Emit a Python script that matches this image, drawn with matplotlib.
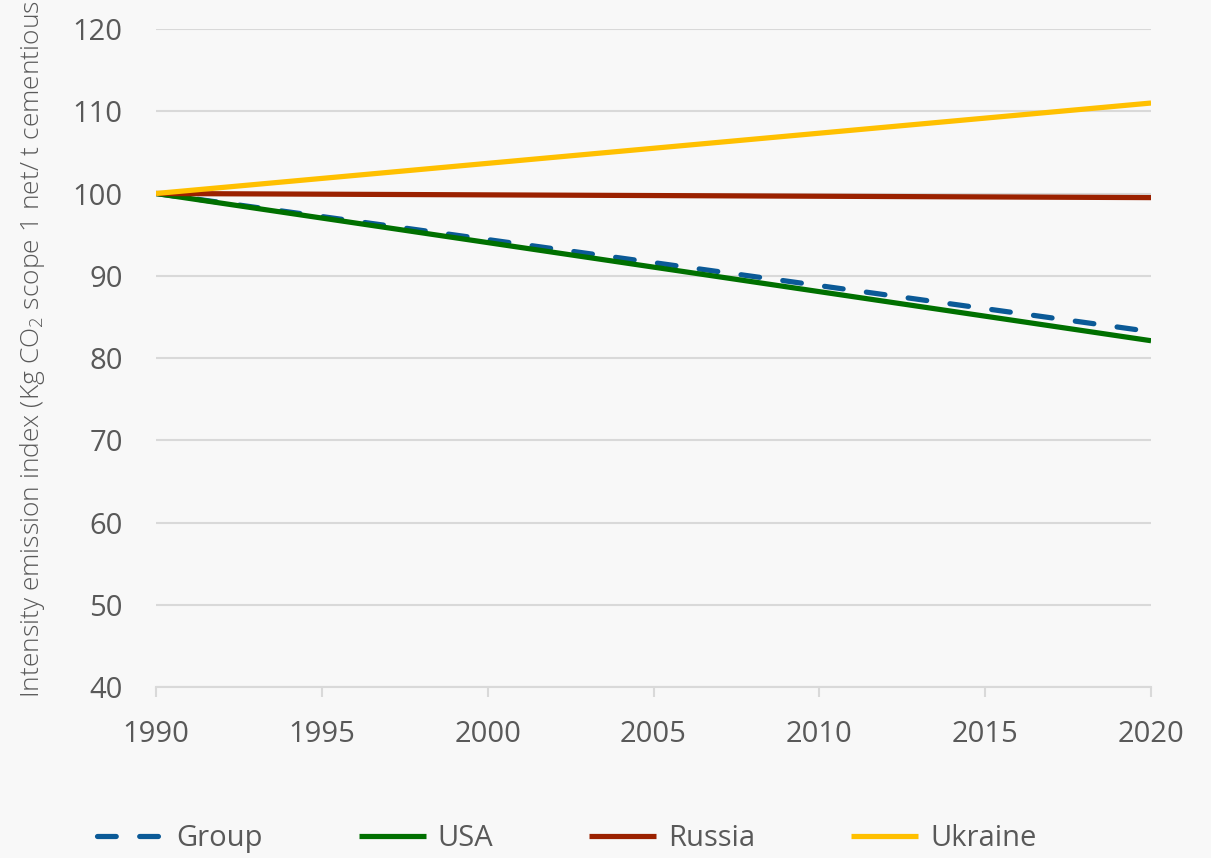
import matplotlib
matplotlib.use('Agg')
import matplotlib.pyplot as plt

years = [1990, 2020]
group = [100, 83.2]
usa = [100, 82.1]
russia = [100, 99.5]
ukraine = [100, 111.0]

ytick_vals = [40, 50, 60, 70, 80, 90, 100, 110, 120]
xtick_vals = [1990, 1995, 2000, 2005, 2010, 2015, 2020]

txt = '#595959'
plt.rcParams['font.family'] = ['Open Sans', 'DejaVu Sans']
plt.rcParams['mathtext.fontset'] = 'custom'
plt.rcParams['mathtext.rm'] = 'Open Sans:light'

fig = plt.figure(figsize=(12.11, 8.58), dpi=100, facecolor='#f8f8f8')
ax = fig.add_axes([0.1288, 0.1993, 0.8217, 0.7669])
ax.set_facecolor('#f8f8f8')

lw = 3.75
ax.plot(years, group, color='#0b5a97', lw=lw, dashes=(3.6, 4.5),
        dash_capstyle='round', label='Group', zorder=3)
ax.plot(years, usa, color='#007000', lw=lw, solid_capstyle='butt', label='USA', zorder=4)
ax.plot(years, russia, color='#9b2100', lw=lw, solid_capstyle='butt', label='Russia', zorder=4)
ax.plot(years, ukraine, color='#ffc000', lw=lw, solid_capstyle='butt', label='Ukraine', zorder=5)

ax.set_xlim(1990, 2020)
ax.set_ylim(40, 120)
ax.set_xticks(xtick_vals)
ax.set_yticks(ytick_vals)
ax.yaxis.grid(True, color='#d9d9d9', lw=1.5)
ax.set_axisbelow(True)
for s in ['left', 'right', 'top']:
    ax.spines[s].set_visible(False)
ax.spines['bottom'].set_color('#d9d9d9')
ax.spines['bottom'].set_linewidth(1.5)
ax.tick_params(axis='x', length=7, width=1.5, color='#d9d9d9', pad=17,
               labelsize=21, labelcolor=txt)
ax.tick_params(axis='y', length=0, pad=24, labelsize=21, labelcolor=txt)

fig.text(33 / 1211, 0.1865,
         'Intensity emission index (Kg CO$_2$ scope 1 net/ t cementious',
         rotation=90, ha='center', va='bottom', fontsize=19, color=txt,
         fontweight='light')

leg = fig.legend(loc='center', bbox_to_anchor=(0.468, 0.023), ncol=4, frameon=False,
                 fontsize=21, handlelength=2.3, handletextpad=0.4, columnspacing=3.3)
for t in leg.get_texts():
    t.set_color(txt)

fig.savefig('out.png', dpi=100, facecolor=fig.get_facecolor())
